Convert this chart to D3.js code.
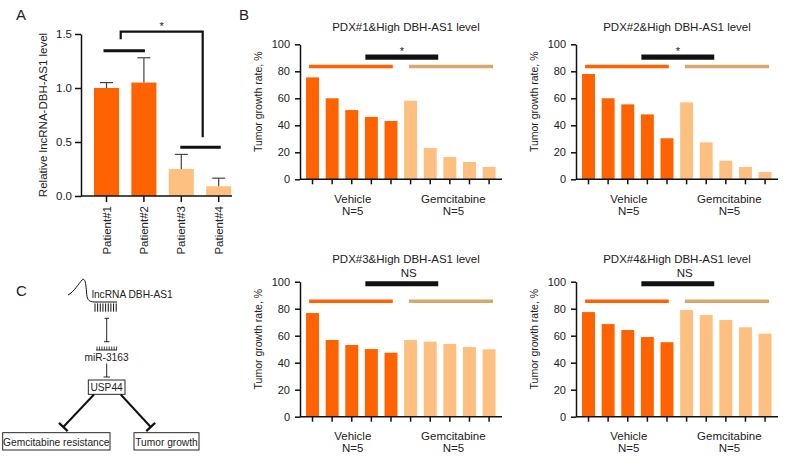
<!DOCTYPE html>
<html><head><meta charset="utf-8">
<script src="https://cdn.jsdelivr.net/npm/d3@7"></script>
<style>
body{margin:0;background:#fff}
svg{display:block}
text{font-family:Arial,"Liberation Sans",Helvetica,sans-serif;fill:#222}
</style>
</head><body>
<svg id="c" width="785" height="457"></svg>
<script>
// ---------- Data ----------
const patients = ["Patient#1", "Patient#2", "Patient#3", "Patient#4"];
const lncLevel = [1.0, 1.05, 0.25, 0.09];
const lncSD = [0.05, 0.23, 0.135, 0.075];
const lncGroup = ["high", "high", "low", "low"];
const aTicks = [0, 0.5, 1.0, 1.5];

const pdxTitles = ["PDX#1&High DBH-AS1 level", "PDX#2&High DBH-AS1 level",
                   "PDX#3&High DBH-AS1 level", "PDX#4&High DBH-AS1 level"];
const pdxSig = ["*", "*", "NS", "NS"];
const mice = ["V1", "V2", "V3", "V4", "V5", "G1", "G2", "G3", "G4", "G5"];
const treatment = ["Vehicle", "Vehicle", "Vehicle", "Vehicle", "Vehicle",
                   "Gemcitabine", "Gemcitabine", "Gemcitabine", "Gemcitabine", "Gemcitabine"];
const pdx1 = [75.5, 60, 51.3, 46.2, 43.2, 58.2, 23.2, 16.5, 12.8, 9.1];
const pdx2 = [78, 60, 55.5, 48.1, 30.4, 57, 27.4, 13.8, 9.1, 5.4];
const pdx3 = [76.8, 56.8, 53.1, 50.1, 47.4, 56.8, 55.6, 53.9, 51.6, 49.9];
const pdx4 = [77.5, 68.6, 64.2, 59, 55.2, 79, 75.3, 71.6, 66.2, 61.5];
const groupLabels = ["Vehicle", "Gemcitabine"];
const groupN = ["N=5", "N=5"];
const bTicks = [0, 20, 40, 60, 80, 100];
const groupLineLevel = [83.5, 83.5, 85.5, 85.5];
const sigBarLevel = [90.5, 90.5, 98.5, 98.5];

const diagram = ["lncRNA DBH-AS1", "miR-3163", "USP44", "Gemcitabine resistance", "Tumor growth"];

// ---------- Styles ----------
const ORANGE = "#ff6200", PEACH = "#fec080", TAN = "#d6a86e", INK = "#111";
const FONT = 'Arial,"Liberation Sans",Helvetica,sans-serif';
const svg = d3.select("#c");

function styleAxis(g, fs) {
  g.attr("font-family", FONT).attr("font-size", fs);
  g.selectAll("path,line").attr("stroke", INK).attr("stroke-width", 1.5);
  g.selectAll("text").attr("fill", "#222");
}

// ---------- Panel labels ----------
svg.append("text").attr("x", 16).attr("y", 20).attr("font-size", 15).text("A");
svg.append("text").attr("x", 239).attr("y", 20).attr("font-size", 15).text("B");
svg.append("text").attr("x", 16).attr("y", 296).attr("font-size", 15).text("C");

// ---------- Panel A ----------
(function () {
  const axX = 81, y0 = 196;
  const y = d3.scaleLinear().domain([0, 1.5]).range([y0, 34]);
  const x = d3.scaleBand().domain(patients).range([87.8, 237.4]).paddingInner(0.33).paddingOuter(0.165);
  const g = svg.append("g");
  g.selectAll("rect.bar").data(lncLevel).join("rect").attr("class", "bar")
    .attr("x", (d, i) => x(patients[i])).attr("width", x.bandwidth())
    .attr("y", d => y(d)).attr("height", d => y0 - y(d))
    .attr("fill", (d, i) => lncGroup[i] === "high" ? ORANGE : PEACH);
  // error bars (upper)
  const eb = g.selectAll("g.eb").data(lncLevel).join("g").attr("class", "eb");
  eb.append("line")
    .attr("x1", (d, i) => x(patients[i]) + x.bandwidth() / 2).attr("x2", (d, i) => x(patients[i]) + x.bandwidth() / 2)
    .attr("y1", d => y(d)).attr("y2", (d, i) => y(d + lncSD[i]))
    .attr("stroke", "#444").attr("stroke-width", 1.2);
  eb.append("line")
    .attr("x1", (d, i) => x(patients[i]) + x.bandwidth() / 2 - 6.5).attr("x2", (d, i) => x(patients[i]) + x.bandwidth() / 2 + 6.5)
    .attr("y1", (d, i) => y(d + lncSD[i])).attr("y2", (d, i) => y(d + lncSD[i]))
    .attr("stroke", "#444").attr("stroke-width", 1.2);
  // y axis
  const ya = g.append("g").attr("transform", `translate(${axX},0)`)
    .call(d3.axisLeft(y).tickValues(aTicks).tickFormat(d3.format(".1f")).tickSize(6).tickSizeOuter(0).tickPadding(3));
  styleAxis(ya, 11.5);
  // x axis
  const xa = g.append("g").attr("transform", `translate(0,${y0})`)
    .call(d3.axisBottom(x).tickSize(6).tickSizeOuter(0).tickFormat(""));
  xa.select(".domain").remove();
  styleAxis(xa, 11.5);
  g.append("line").attr("x1", axX).attr("x2", 232).attr("y1", y0).attr("y2", y0)
    .attr("stroke", INK).attr("stroke-width", 1.5);
  g.selectAll("text.pl").data(patients).join("text").attr("class", "pl")
    .attr("transform", d => `translate(${x(d) + x.bandwidth() / 2},206) rotate(-90)`)
    .attr("text-anchor", "end").attr("dy", "0.35em").attr("font-size", 11.5).text(d => d);
  // y label
  g.append("text").attr("transform", "translate(42.5,115) rotate(-90)")
    .attr("text-anchor", "middle").attr("dy", "0.35em").attr("font-size", 11.5)
    .text("Relative lncRNA-DBH-AS1 level");
  // significance
  const c = d => x(d) + x.bandwidth() / 2;
  g.append("line").attr("x1", c(patients[0]) - 3).attr("x2", c(patients[1]) + 1)
    .attr("y1", 50.7).attr("y2", 50.7).attr("stroke", INK).attr("stroke-width", 3);
  g.append("line").attr("x1", c(patients[2]) - 1).attr("x2", c(patients[3]) + 2)
    .attr("y1", 147.3).attr("y2", 147.3).attr("stroke", INK).attr("stroke-width", 3);
  g.append("path").attr("d", `M120.7,39.3 V31.7 H202.7 V137.3`)
    .attr("fill", "none").attr("stroke", INK).attr("stroke-width", 2.2);
  g.append("text").attr("x", 161.7).attr("y", 30).attr("text-anchor", "middle").attr("font-size", 11).text("*");
})();

// ---------- Panel B ----------
function pdxPanel(k, axX, y0, values, titleDx) {
  const y = d3.scaleLinear().domain([0, 100]).range([y0, y0 - 135]);
  const x = d3.scaleBand().domain(mice).range([axX + 2.7, axX + 198.9]).paddingInner(0.34).paddingOuter(0.17);
  const c = i => x(mice[i]) + x.bandwidth() / 2;
  const g = svg.append("g");
  g.selectAll("rect").data(values).join("rect")
    .attr("x", (d, i) => x(mice[i])).attr("width", x.bandwidth())
    .attr("y", d => y(d)).attr("height", d => y0 - y(d))
    .attr("fill", (d, i) => treatment[i] === "Vehicle" ? ORANGE : PEACH);
  const ya = g.append("g").attr("transform", `translate(${axX},0)`)
    .call(d3.axisLeft(y).tickValues(bTicks).tickSize(5).tickSizeOuter(0).tickPadding(5));
  styleAxis(ya, 11);
  const xa = g.append("g").attr("transform", `translate(0,${y0})`)
    .call(d3.axisBottom(x).tickSize(5).tickSizeOuter(0).tickFormat(""));
  xa.select(".domain").remove();
  styleAxis(xa, 11);
  g.append("line").attr("x1", axX).attr("x2", axX + 202).attr("y1", y0).attr("y2", y0)
    .attr("stroke", INK).attr("stroke-width", 1.5);
  // group labels
  const gc = [c(2) + 1, c(7) + 3.5];
  groupLabels.forEach((lab, j) => {
    g.append("text").attr("x", gc[j]).attr("y", y0 + 23.3).attr("text-anchor", "middle").attr("font-size", 11.5).text(lab);
    g.append("text").attr("x", gc[j]).attr("y", y0 + 35.5).attr("text-anchor", "middle").attr("font-size", 11.5).text(groupN[j]);
  });
  // y label
  g.append("text").attr("transform", `translate(${axX - 42},${y0 - 77.5}) rotate(-90)`)
    .attr("text-anchor", "middle").attr("dy", "0.35em").attr("font-size", 10.5).text("Tumor growth rate, %");
  // title
  const top = k < 2;
  g.append("text").attr("x", axX + 101 + titleDx).attr("y", top ? y0 - 148.5 : y0 - 154)
    .attr("text-anchor", "middle").attr("font-size", 11.5).text(pdxTitles[k]);
  // group lines
  const gl = y(groupLineLevel[k]);
  g.append("line").attr("x1", c(0) - 3.4).attr("x2", c(4) + 1.8).attr("y1", gl).attr("y2", gl)
    .attr("stroke", ORANGE).attr("stroke-width", 3.5);
  g.append("line").attr("x1", c(5) - 1.7).attr("x2", c(9) + 4).attr("y1", gl).attr("y2", gl)
    .attr("stroke", TAN).attr("stroke-width", 3.5);
  const sb = y(sigBarLevel[k]);
  g.append("line").attr("x1", c(3) - 6).attr("x2", c(6) + 8).attr("y1", sb).attr("y2", sb)
    .attr("stroke", INK).attr("stroke-width", 5.2);
  const sc = (c(3) - 6 + c(6) + 8) / 2;
  if (top) {
    g.append("text").attr("x", sc).attr("y", sb - 2.5).attr("text-anchor", "middle").attr("font-size", 11).text(pdxSig[k]);
  } else {
    g.append("text").attr("x", sc + 7).attr("y", sb - 7).attr("text-anchor", "middle").attr("font-size", 11.5).text(pdxSig[k]);
  }
}
pdxPanel(0, 300, 179.3, pdx1, 5);
pdxPanel(1, 576, 179.3, pdx2, 0);
pdxPanel(2, 300, 416.7, pdx3, 5);
pdxPanel(3, 576, 416.7, pdx4, 0);

// ---------- Panel C ----------
(function () {
  const g = svg.append("g").attr("stroke", INK).attr("fill", "none");
  // lncRNA hairpin
  g.append("path").attr("d", "M68,295 C74,292 79,283 82,280 C85,277 86,284 86.5,292 C87,299 88,302 95,302 L117,302")
    .attr("stroke-width", 1);
  // comb under lncRNA
  d3.range(9).forEach(i => {
    const xx = 95 + i * 2.65;
    g.append("line").attr("x1", xx).attr("x2", xx).attr("y1", 303.5).attr("y2", 311.7).attr("stroke-width", 1);
  });
  // inhibition lncRNA -> miR
  g.append("line").attr("x1", 106.7).attr("x2", 106.7).attr("y1", 318.3).attr("y2", 341.7).attr("stroke-width", 0.9);
  g.append("line").attr("x1", 104.5).attr("x2", 109).attr("y1", 318.3).attr("y2", 318.3).attr("stroke-width", 0.9);
  g.append("line").attr("x1", 104).attr("x2", 109.5).attr("y1", 341.7).attr("y2", 341.7).attr("stroke-width", 0.9);
  // miR comb
  d3.range(9).forEach(i => {
    const xx = 97 + i * 2.45;
    g.append("line").attr("x1", xx).attr("x2", xx).attr("y1", 346.5).attr("y2", 350).attr("stroke-width", 0.8);
  });
  g.append("line").attr("x1", 96).attr("x2", 117).attr("y1", 350).attr("y2", 350).attr("stroke-width", 0.9);
  // inhibition miR -> USP44
  g.append("line").attr("x1", 106.7).attr("x2", 106.7).attr("y1", 363.5).attr("y2", 377).attr("stroke-width", 0.9);
  g.append("line").attr("x1", 103.5).attr("x2", 110).attr("y1", 377).attr("y2", 377).attr("stroke-width", 0.9);
  // USP44 box
  g.append("rect").attr("x", 88.3).attr("y", 380).attr("width", 36.7).attr("height", 14.3).attr("stroke-width", 0.9);
  // thick inhibition lines
  function tee(x1, y1, x2, y2) {
    g.append("line").attr("x1", x1).attr("y1", y1).attr("x2", x2).attr("y2", y2).attr("stroke-width", 2);
    const dx = x2 - x1, dy = y2 - y1, L = Math.hypot(dx, dy);
    const px = -dy / L * 6, py = dx / L * 6;
    g.append("line").attr("x1", x2 - px).attr("y1", y2 - py).attr("x2", x2 + px).attr("y2", y2 + py).attr("stroke-width", 2.2);
  }
  tee(94, 394.5, 63.3, 427);
  tee(120.7, 394.5, 150.7, 427);
  // bottom boxes
  g.append("rect").attr("x", 2.7).attr("y", 432.7).attr("width", 107.3).attr("height", 17.3).attr("stroke-width", 0.9);
  g.append("rect").attr("x", 134).attr("y", 432.7).attr("width", 65).attr("height", 17.3).attr("stroke-width", 0.9);

  const t = svg.append("g").attr("font-size", 10.2);
  t.append("text").attr("x", 91.7).attr("y", 297.5).text(diagram[0]);
  t.append("text").attr("x", 106.5).attr("y", 360.5).attr("text-anchor", "middle").text(diagram[1]);
  t.append("text").attr("x", 106.6).attr("y", 391).attr("text-anchor", "middle").text(diagram[2]);
  t.append("text").attr("x", 56.3).attr("y", 445.5).attr("text-anchor", "middle").text(diagram[3]);
  t.append("text").attr("x", 166.5).attr("y", 445.5).attr("text-anchor", "middle").text(diagram[4]);
})();
</script>
</body></html>
